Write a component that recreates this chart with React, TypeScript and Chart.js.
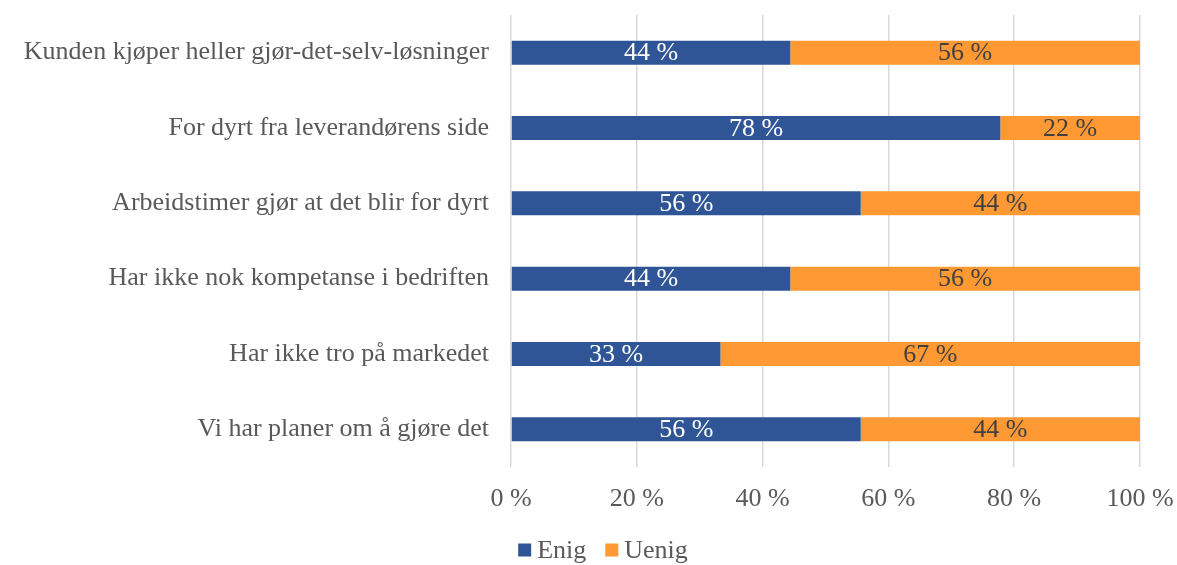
import React, { useEffect, useRef } from "react";
import { Chart, registerables } from "chart.js";

Chart.register(...registerables);

const categories = [
  "Kunden kjøper heller gjør-det-selv-løsninger",
  "For dyrt fra leverandørens side",
  "Arbeidstimer gjør at det blir for dyrt",
  "Har ikke nok kompetanse i bedriften",
  "Har ikke tro på markedet",
  "Vi har planer om å gjøre det",
];
const enig = [44.4, 77.8, 55.6, 44.4, 33.3, 55.6];
const uenig = [55.6, 22.2, 44.4, 55.6, 66.7, 44.4];
const xTicks = [0, 20, 40, 60, 80, 100];

const FONT = "'Liberation Serif', 'Times New Roman', serif";
const FS = 26;

const labelPlugin = {
  id: "barLabels",
  afterDatasetsDraw(chart: any) {
    const ctx = chart.ctx;
    ctx.save();
    ctx.font = `${FS}px ${FONT}`;
    ctx.textAlign = "center";
    ctx.textBaseline = "middle";
    chart.data.datasets.forEach((ds: any, di: number) => {
      const meta = chart.getDatasetMeta(di);
      meta.data.forEach((bar: any, i: number) => {
        const v = ds.data[i];
        const x = (bar.x + bar.base) / 2;
        ctx.fillStyle = di === 0 ? "#ffffff" : "#404040";
        ctx.fillText(`${Math.round(v)} %`, x, bar.y + 1);
      });
    });
    ctx.restore();
  },
};

const legendPlugin = {
  id: "customLegend",
  afterDraw(chart: any) {
    const ctx = chart.ctx;
    ctx.save();
    ctx.font = `${FS}px ${FONT}`;
    ctx.textBaseline = "middle";
    ctx.textAlign = "left";
    const box = 13;
    const gap = 6;
    const itemGap = 19;
    const items = chart.data.datasets.map((ds: any) => ({
      label: ds.label,
      color: ds.backgroundColor,
      w: box + gap + ctx.measureText(ds.label).width,
    }));
    const total = items.reduce((s: number, it: any) => s + it.w, 0) + itemGap * (items.length - 1);
    const cx = 603;
    const cy = 551;
    let x = cx - total / 2;
    items.forEach((it: any) => {
      ctx.fillStyle = it.color;
      ctx.fillRect(x, cy - box / 2 - 1, box, box);
      ctx.fillStyle = "#595959";
      ctx.fillText(it.label, x + box + gap, cy);
      x += it.w + itemGap;
    });
    ctx.restore();
  },
};

export default function App() {
  const ref = useRef<HTMLCanvasElement>(null);
  useEffect(() => {
    document.body.style.margin = "0";
    const chart = new Chart(ref.current!, {
      type: "bar",
      data: {
        labels: categories,
        datasets: [
          { label: "Enig", data: enig, backgroundColor: "#2F5597", barPercentage: 0.636, categoryPercentage: 0.5 },
          { label: "Uenig", data: uenig, backgroundColor: "#FF9933", barPercentage: 0.636, categoryPercentage: 0.5 },
        ],
      },
      options: {
        indexAxis: "y",
        animation: false,
        responsive: false,
        layout: { padding: { left: 0, right: 37, top: 15, bottom: 50 } },
        scales: {
          x: {
            stacked: true,
            min: 0,
            max: 100,
            afterBuildTicks: (axis: any) => {
              axis.ticks = xTicks.map((v) => ({ value: v }));
            },
            afterFit: (axis: any) => {
              axis.height = 48;
              axis.paddingLeft = 0;
              axis.paddingRight = 0;
            },
            grid: { color: "#d9d9d9", lineWidth: 1.5, drawTicks: false },
            border: { display: false },
            ticks: {
              padding: 17,
              color: "#595959",
              font: { family: FONT, size: FS },
              callback: (v: any) => `${v} %`,
            },
          },
          y: {
            stacked: true,
            afterFit: (axis: any) => {
              axis.width = 511;
              axis.paddingTop = 0;
              axis.paddingBottom = 0;
            },
            grid: { display: false, drawTicks: false },
            border: { display: false },
            ticks: {
              padding: 22,
              color: "#595959",
              font: { family: FONT, size: FS },
            },
          },
        },
        plugins: {
          legend: { display: false },
          tooltip: { enabled: false },
        },
      },
      plugins: [labelPlugin, legendPlugin],
    });
    return () => chart.destroy();
  }, []);
  return (
    <div style={{ width: 1177, height: 565 }}>
      <canvas ref={ref} width={1177} height={565} />
    </div>
  );
}
